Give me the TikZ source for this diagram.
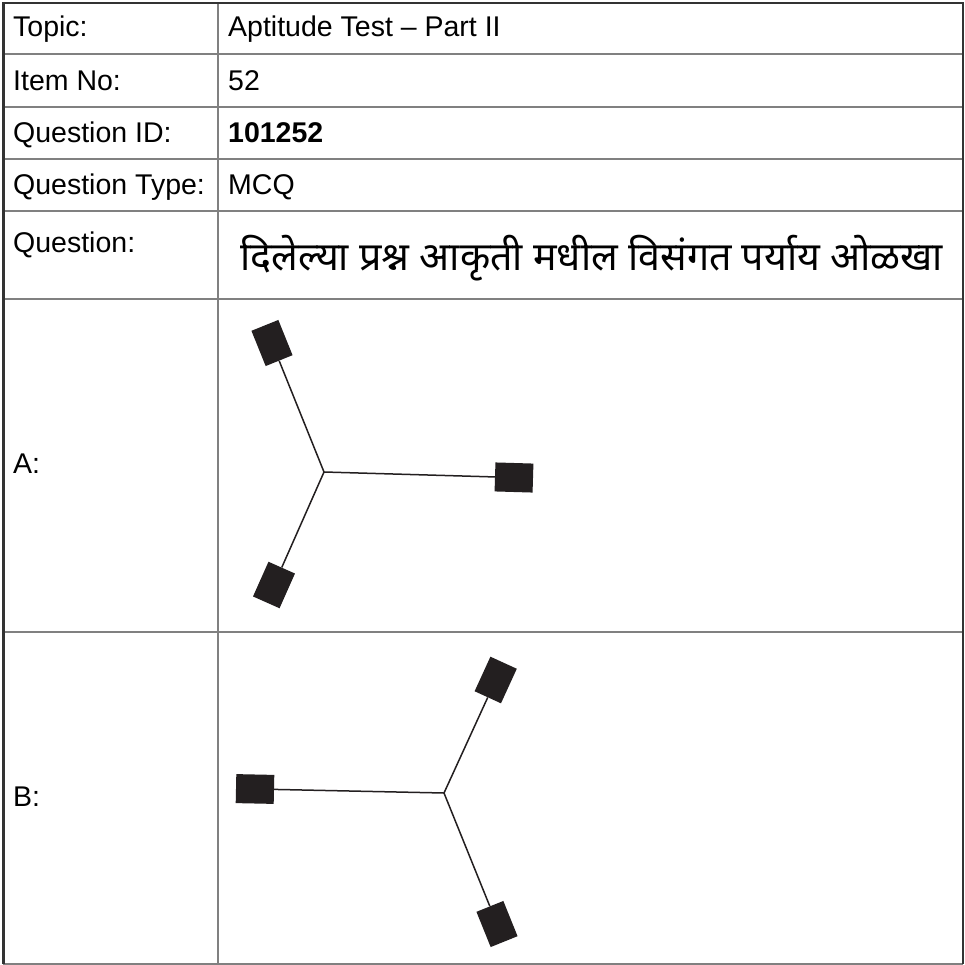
\documentclass[tikz,border=0pt]{standalone}
\usepackage{fontspec}
\setmainfont{Liberation Sans}
\newfontfamily\devfont[Script=Devanagari]{Noto Sans}
\usetikzlibrary{positioning}
\definecolor{gridgray}{HTML}{808080}
\definecolor{framegray}{HTML}{333333}
\definecolor{inkblack}{HTML}{231F20}

\tikzset{
  cell/.style={anchor=base west, inner sep=0pt, font=\fontsize{28.5}{34}\selectfont},
  arm/.style={draw=inkblack, line width=1.5pt},
  pad/.style={fill=inkblack, inner sep=0pt, minimum width=38pt, minimum height=29pt},
}

\begin{document}
\begin{tikzpicture}[x=1pt,y=-1pt]

\useasboundingbox (0,0) rectangle (965,965);
\fill[white] (0,0) rectangle (965,965);

\foreach \y in {54,107,159,211,299,632}
  \draw[gridgray, line width=2pt] (3,\y) -- (963,\y);
\draw[gridgray, line width=2pt] (218,3) -- (218,964);
\draw[gridgray, line width=2pt] (3,964) -- (963,964);
\draw[framegray, line width=2.5pt] (3.5,964) -- (3.5,3) -- (963,3) -- (963,964);

\node[cell] (topic) at (13,37) {Topic:};
\node[cell] (topicval) at (228,37) {Aptitude Test – Part II};
\node[cell] (item) at (13,91) {Item No:};
\node[cell] (itemval) at (228,91) {52};
\node[cell] (qid) at (13,143) {Question ID:};
\node[cell] (qidval) at (228,143) {\textbf{101252}};
\node[cell] (qtype) at (13,195) {Question Type:};
\node[cell] (qtypeval) at (228,195) {MCQ};
\node[cell] (quest) at (13,253) {Question:};
\node[cell, font=\devfont\fontsize{39.4}{46}\selectfont] (questval) at (240,270)
  {दिलेल्या प्रश्न आकृती मधील विसंगत पर्याय ओळखा};
\node[cell] (opta) at (13,473) {A:};
\node[cell] (optb) at (13,806) {B:};

% option A
\coordinate (ja) at (324,472);
\node[pad, rotate=112] (a1) at (272,343) {};
\node[pad, rotate=-1.7] (a2) at (514,477.5) {};
\node[pad, rotate=66] (a3) at (274,585) {};
\draw[arm] (ja) -- (a1);
\draw[arm] (ja) -- (a2);
\draw[arm] (ja) -- (a3);

% option B
\coordinate (jb) at (444,793);
\node[pad, rotate=178.8] (b1) at (255,789) {};
\node[pad, rotate=65.4] (b2) at (495.7,680) {};
\node[pad, rotate=-68] (b3) at (497,924) {};
\draw[arm] (jb) -- (b1);
\draw[arm] (jb) -- (b2);
\draw[arm] (jb) -- (b3);

\end{tikzpicture}
\end{document}
